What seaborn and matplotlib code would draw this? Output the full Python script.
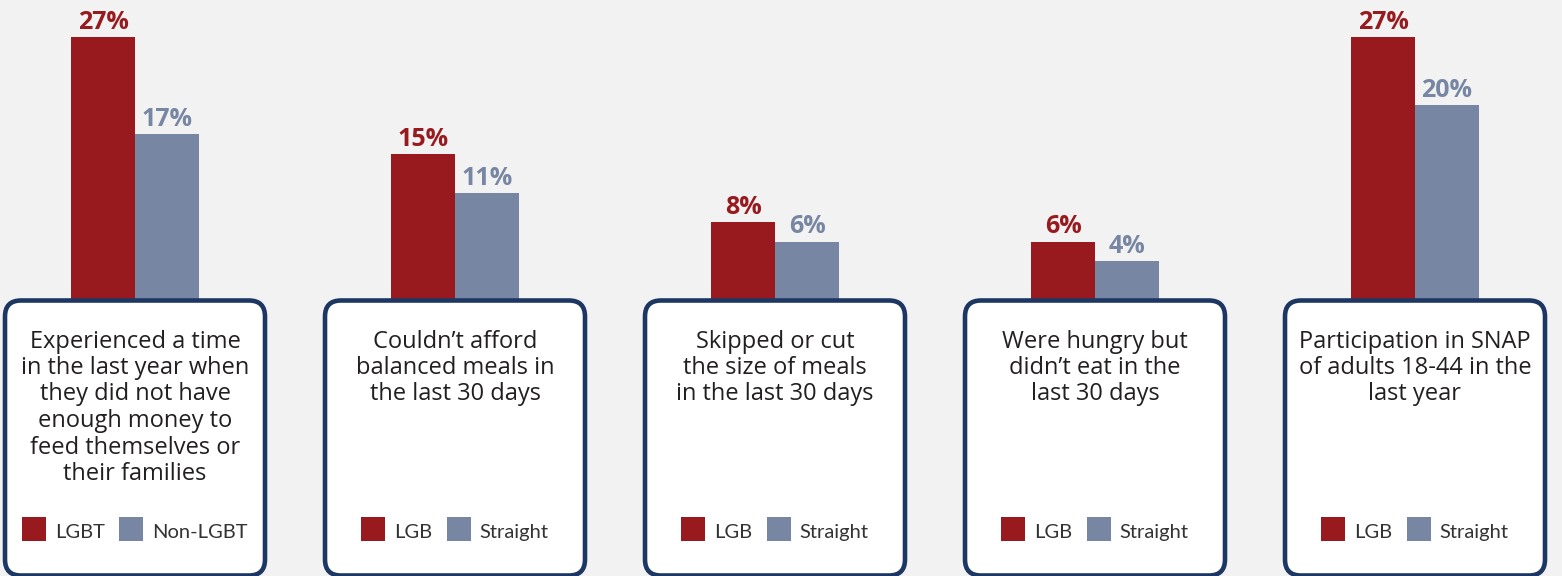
import matplotlib
matplotlib.use("Agg")
import matplotlib.pyplot as plt
import seaborn as sns
import pandas as pd
from matplotlib.patches import FancyBboxPatch, Rectangle

# ---- data ----
panel_keys = ["food_insecure", "balanced_meals", "skipped_meals", "hungry", "snap"]
panel_titles = [
    ["Experienced a time", "in the last year when", "they did not have",
     "enough money to", "feed themselves or", "their families"],
    ["Couldn\u2019t afford", "balanced meals in", "the last 30 days"],
    ["Skipped or cut", "the size of meals", "in the last 30 days"],
    ["Were hungry but", "didn\u2019t eat in the", "last 30 days"],
    ["Participation in SNAP", "of adults 18-44 in the", "last year"],
]
group_a_values = [27, 15, 8, 6, 27]
group_b_values = [17, 11, 6, 4, 20]
group_a_names = ["LGBT", "LGB", "LGB", "LGB", "LGB"]
group_b_names = ["Non-LGBT", "Straight", "Straight", "Straight", "Straight"]

RED = "#981a1e"
BLUE = "#7686a3"
NAVY = "#1d3764"
BG = "#f2f2f2"
TEXT = "#231f20"

W, H = 1562, 576
PX_PER_CAT = 320.0
FIRST_CENTER = 135.0
BASELINE_PX = 300.0
PX_PER_PCT = 9.75

sns.set_theme(style="white")
plt.rcParams["font.family"] = ["Lato", "DejaVu Sans"]

fig = plt.figure(figsize=(W / 100, H / 100), dpi=100, facecolor=BG)
ax = fig.add_axes([0, 0, 1, 1])
ax.set_facecolor(BG)

df = pd.DataFrame({
    "panel": panel_keys * 2,
    "group": ["A"] * len(panel_keys) + ["B"] * len(panel_keys),
    "value": group_a_values + group_b_values,
})
sns.barplot(data=df, x="panel", y="value", hue="group", order=panel_keys,
            hue_order=["A", "B"], palette=[RED, BLUE], width=0.4,
            saturation=1, linewidth=0, legend=False, ax=ax, errorbar=None)

for cont, vals, col in zip(ax.containers, [group_a_values, group_b_values], [RED, BLUE]):
    ax.bar_label(cont, labels=[f"{v}%" for v in vals], padding=1.5, color=col,
                 fontsize=18, fontweight="bold", family=["Open Sans", "DejaVu Sans"])

ax.set_xlim(-FIRST_CENTER / PX_PER_CAT, (W - FIRST_CENTER) / PX_PER_CAT)
ax.set_ylim(-(H - BASELINE_PX) / PX_PER_PCT, BASELINE_PX / PX_PER_PCT)
ax.axis("off")

# ---- overlay in pixel coordinates ----
ov = fig.add_axes([0, 0, 1, 1])
ov.set_xlim(0, W)
ov.set_ylim(H, 0)
ov.axis("off")
ov.patch.set_alpha(0)

fig.canvas.draw()
renderer = fig.canvas.get_renderer()

def text_width(s, **kw):
    t = ov.text(0, 0, s, **kw)
    bb = t.get_window_extent(renderer=renderer)
    t.remove()
    return bb.width

title_kw = dict(fontsize=17, color=TEXT, family=["Open Sans", "DejaVu Sans"])
legend_kw = dict(fontsize=14.5, color="#333333", fontweight="normal")
for i, lines in enumerate(panel_titles):
    cx = FIRST_CENTER + i * PX_PER_CAT
    box = FancyBboxPatch((cx - 130, 300.5), 260, 275,
                         boxstyle="round,pad=0,rounding_size=16",
                         facecolor="white", edgecolor=NAVY, linewidth=3.3, zorder=3)
    ov.add_patch(box)
    for j, line in enumerate(lines):
        ov.text(cx, 347.5 + j * 26.5, line, ha="center", va="baseline",
                zorder=4, **title_kw)
    # legend
    sq = 24
    w1 = text_width(group_a_names[i], **legend_kw)
    w2 = text_width(group_b_names[i], **legend_kw)
    g1, g2 = 9, 14
    total = sq + g1 + w1 + g2 + sq + g1 + w2
    x0 = cx - total / 2
    ov.add_patch(Rectangle((x0, 517), sq, sq, facecolor=RED, edgecolor="none", zorder=4))
    ov.text(x0 + sq + g1, 538, group_a_names[i], ha="left", va="baseline", zorder=4, **legend_kw)
    x1 = x0 + sq + g1 + w1 + g2
    ov.add_patch(Rectangle((x1, 517), sq, sq, facecolor=BLUE, edgecolor="none", zorder=4))
    ov.text(x1 + sq + g1, 538, group_b_names[i], ha="left", va="baseline", zorder=4, **legend_kw)

fig.savefig("out.png", dpi=100, facecolor=BG)
